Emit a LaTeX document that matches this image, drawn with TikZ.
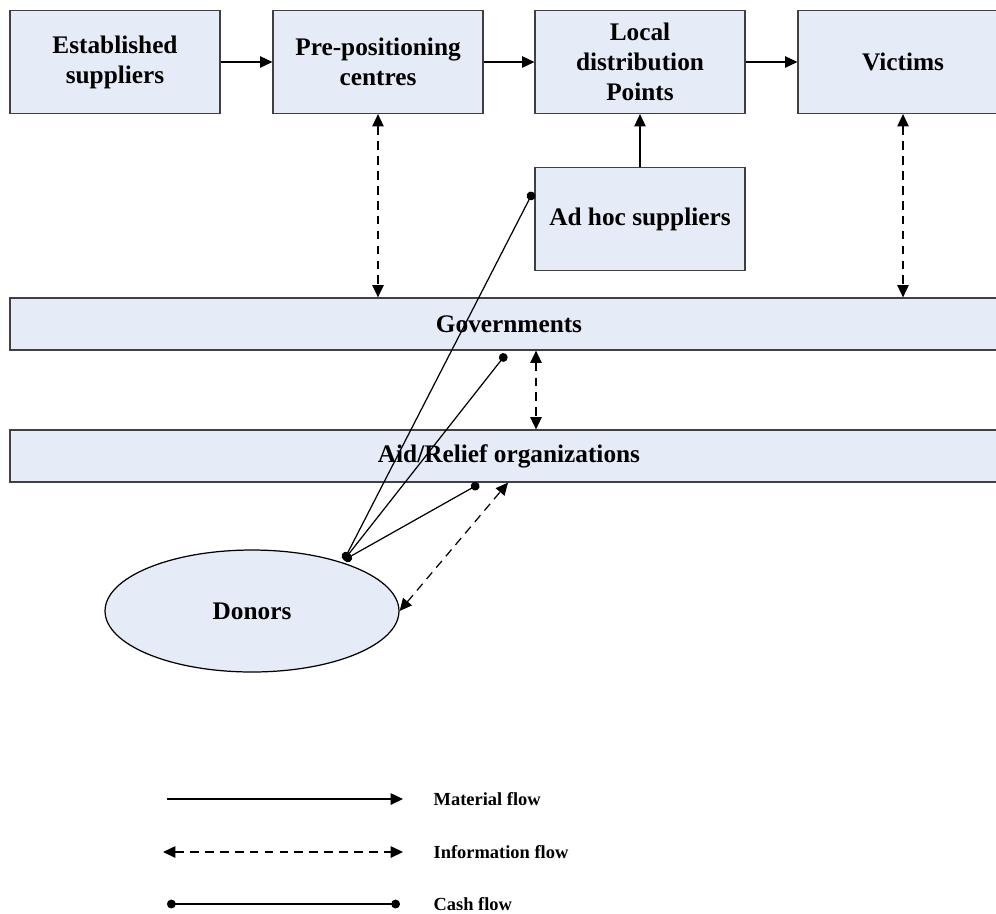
\documentclass[tikz,border=0pt]{standalone}
\usepackage{fontspec}
\setmainfont{Liberation Serif}
\usetikzlibrary{arrows.meta,shapes.geometric}

\definecolor{boxfill}{RGB}{230,236,247}
\definecolor{boxline}{RGB}{64,64,64}

\begin{document}
\begin{tikzpicture}[x=0.02cm,y=-0.02cm,>={Triangle[length=7pt,width=6.5pt]},line width=0.7pt,
  box/.style={rectangle,draw=boxline,fill=boxfill,minimum width=4.2cm,minimum height=2.06cm,
    align=center,inner sep=0pt,font=\bfseries\fontsize{14.4}{17}\selectfont},
  bar/.style={rectangle,draw=boxline,fill=boxfill,minimum width=19.96cm,minimum height=1.04cm,
    inner sep=0pt,font=\bfseries\fontsize{14.4}{17}\selectfont},
  donor node/.style={ellipse,draw,fill=boxfill,minimum width=5.88cm,minimum height=2.44cm,
    inner sep=0pt,font=\bfseries\fontsize{14.4}{17}\selectfont},
  legend text/.style={anchor=west,inner sep=0pt,font=\bfseries\fontsize{10.5}{12}\selectfont},
  material/.style={->},
  info/.style={<->,dash pattern=on 5pt off 3.5pt},
  cash/.style={{Circle[length=5pt]}-{Circle[length=5pt]}}]

  \useasboundingbox (0,0) rectangle (996,913);
  \clip (0,0) rectangle (996,913);

  \node[box] (es) at (115,62) {Established\\suppliers};
  \node[box] (pc) at (378,62) {Pre-positioning\\centres};
  \node[box] (ld) at (640,62) {Local\\distribution\\Points};
  \node[box] (vi) at (903,62) {Victims};
  \node[box] (ah) at (640,219) {Ad hoc suppliers};
  \node[bar] (gov) at (509,324) {Governments};
  \node[bar] (aid) at (509,456) {Aid/Relief organizations};
  \node[donor node] (don) at (252,611) {Donors};

  \coordinate (ga) at (536,0);
  \coordinate (da) at (508,0);
  \coordinate (dc) at (344,560);
  \coordinate (c1) at (533,192);
  \coordinate (c2) at (506,354);
  \coordinate (c3) at (479,484);

  % flows between the actors
  \path[material]
    (es) edge (pc)
    (pc) edge (ld)
    (ld) edge (vi)
    (ah) edge (ld);
  \path[info]
    (pc.south) edge (pc.south |- gov.north)
    (vi.south) edge (vi.south |- gov.north)
    (gov.south -| ga) edge (aid.north -| ga)
    (don.east) edge (aid.south -| da);
  \path[cash]
    (dc) edge (c1)
    (dc) edge (c2)
    (dc) edge (c3);

  % legend
  \coordinate (m1) at (167,799);
  \coordinate (m2) at (403,799);
  \coordinate (i1) at (163,852);
  \coordinate (i2) at (403,852);
  \coordinate (k1) at (167,904);
  \coordinate (k2) at (400,904);
  \node[legend text] (mt) at (433,799) {Material flow};
  \node[legend text] (it) at (433,852) {Information flow};
  \node[legend text] (kt) at (433,904) {Cash flow};
  \draw[material] (m1) -- (m2);
  \draw[info] (i1) -- (i2);
  \draw[cash] (k1) -- (k2);
\end{tikzpicture}
\end{document}
